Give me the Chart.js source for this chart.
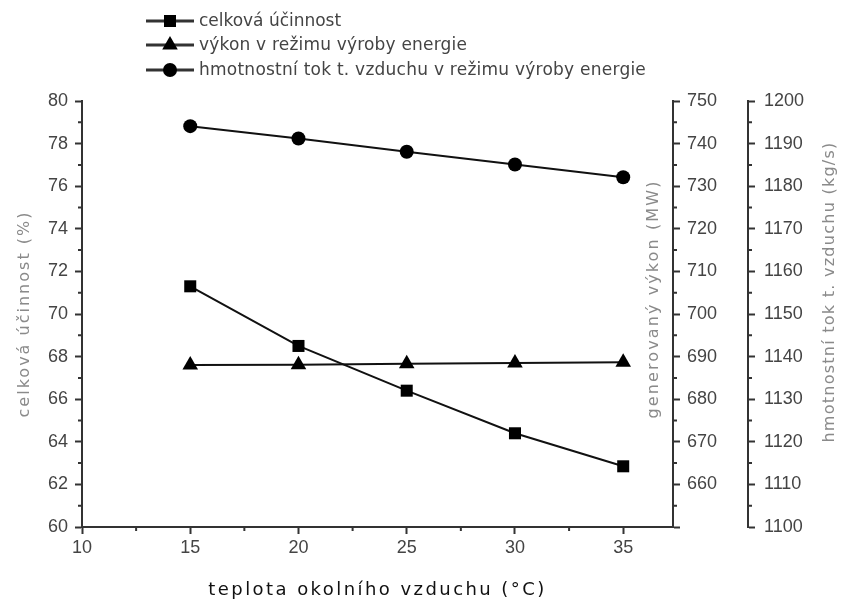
<!DOCTYPE html>
<html>
<head>
<meta charset="utf-8">
<script src="https://cdn.jsdelivr.net/npm/chart.js@4"></script>
<style>
html, body { margin: 0; padding: 0; background: #fff; }
</style>
</head>
<body>
<canvas id="myChart" width="842" height="601"></canvas>
<script>
// data
const teploty = [15, 20, 25, 30, 35];
const ucinnost = [71.3, 68.5, 66.4, 64.4, 62.85];
const vykon = [688.0, 688.1, 688.3, 688.5, 688.7];
const tokVzduchu = [1194.1, 1191.2, 1188.1, 1185.1, 1182.1];

const xTicks = [10, 15, 20, 25, 30, 35];
const leftTicks = [60, 62, 64, 66, 68, 70, 72, 74, 76, 78, 80];
const midTicks = [650, 660, 670, 680, 690, 700, 710, 720, 730, 740, 750];
const rightTicks = [1100, 1110, 1120, 1130, 1140, 1150, 1160, 1170, 1180, 1190, 1200];

const labels = ['celková účinnost', 'výkon v režimu výroby energie', 'hmotnostní tok t. vzduchu v režimu výroby energie'];
const xTitle = 'teplota okolního vzduchu (°C)';
const leftTitle = 'celková účinnost (%)';
const midTitle = 'generovaný výkon (MW)';
const rightTitle = 'hmotnostní tok t. vzduchu (kg/s)';

const axisColor = '#333';
const tickFont = { family: 'Liberation Sans', size: 18 };

function toPoints(ys) {
    return teploty.map(function (t, i) { return { x: t, y: ys[i] }; });
}

function setTicks(list) {
    return function (scale) { scale.ticks = list.map(function (v) { return { value: v }; }); };
}

function plain(v) { return String(v); }

function marker(ctx, style, x, y, r) {
    ctx.beginPath();
    if (style === 'rect') {
        const s = Math.SQRT1_2 * r;
        ctx.rect(x - s, y - s, 2 * s, 2 * s);
    } else if (style === 'triangle') {
        for (let k = 0; k < 3; k++) {
            const a = k * 2 * Math.PI / 3;
            const px = x + Math.sin(a) * r, py = y - Math.cos(a) * r;
            if (k === 0) ctx.moveTo(px, py); else ctx.lineTo(px, py);
        }
        ctx.closePath();
    } else {
        ctx.arc(x, y, r, 0, Math.PI * 2);
    }
    ctx.fill();
}

function spacedText(ctx, text, x, y, width) {
    ctx.letterSpacing = '0px';
    const w = ctx.measureText(text).width;
    const sp = (width - w) / (text.length - 1);
    ctx.letterSpacing = sp.toFixed(2) + 'px';
    ctx.fillText(text, x, y);
    ctx.letterSpacing = '0px';
}

const extras = {
    id: 'extras',
    afterDraw: function (chart) {
        const ctx = chart.ctx;
        const sc = chart.scales;
        ctx.save();
        // minor ticks
        ctx.strokeStyle = axisColor;
        ctx.lineWidth = 2;
        const minor = function (list, scale, draw) {
            for (let i = 0; i < list.length - 1; i++) {
                const v = (list[i] + list[i + 1]) / 2;
                if (v > scale.max) continue;
                draw(scale.getPixelForValue(v));
            }
        };
        ctx.beginPath();
        minor(xTicks.concat([40]), sc.x, function (p) { ctx.moveTo(p, sc.x.top); ctx.lineTo(p, sc.x.top + 4); });
        minor(leftTicks, sc.y, function (p) { ctx.moveTo(sc.y.right, p); ctx.lineTo(sc.y.right - 4, p); });
        minor(midTicks, sc.y1, function (p) { ctx.moveTo(sc.y1.left, p); ctx.lineTo(sc.y1.left + 4, p); });
        minor(rightTicks, sc.y2, function (p) { ctx.moveTo(sc.y2.left, p); ctx.lineTo(sc.y2.left + 4, p); });
        ctx.stroke();

        // legend
        ctx.font = '17px "DejaVu Sans"';
        ctx.textBaseline = 'middle';
        ctx.textAlign = 'left';
        const rows = [21, 45, 70];
        const widths = [142, 268, 447];
        chart.data.datasets.forEach(function (ds, i) {
            const y = rows[i];
            ctx.strokeStyle = '#333';
            ctx.lineWidth = 3;
            ctx.beginPath();
            ctx.moveTo(146, y);
            ctx.lineTo(194, y);
            ctx.stroke();
            ctx.fillStyle = '#000';
            marker(ctx, ds.pointStyle, 170, y, ds.pointRadius);
            ctx.fillStyle = '#444';
            spacedText(ctx, ds.label, 199, y + 1, widths[i]);
        });

        // axis titles
        ctx.textAlign = 'center';
        ctx.fillStyle = '#111';
        ctx.font = '18px "DejaVu Sans"';
        spacedText(ctx, xTitle, (chart.chartArea.left + chart.chartArea.right) / 2, 590, 336);

        ctx.fillStyle = '#8a8a8a';
        ctx.font = '16px "DejaVu Sans"';
        const vertical = function (text, x, y, width) {
            ctx.save();
            ctx.translate(x, y);
            ctx.rotate(-Math.PI / 2);
            spacedText(ctx, text, 0, 0, width);
            ctx.restore();
        };
        vertical(leftTitle, 25, 314, 205);
        vertical(midTitle, 654, 299, 237);
        vertical(rightTitle, 830, 292, 300);
        ctx.restore();
    }
};

const axisBase = {
    grid: { display: true, drawOnChartArea: false, drawTicks: true, tickLength: 7, tickWidth: 2, tickColor: axisColor },
    border: { display: true, color: axisColor, width: 2 },
    title: { display: false }
};

const lineStyle = {
    borderColor: '#111',
    borderWidth: 2,
    pointBackgroundColor: '#000',
    pointBorderColor: '#000',
    pointBorderWidth: 0,
    tension: 0,
    fill: false
};

const chart = new Chart(document.getElementById('myChart'), {
    type: 'line',
    data: {
        datasets: [Object.assign({
            label: labels[0],
            data: toPoints(ucinnost),
            yAxisID: 'y',
            pointStyle: 'rect',
            pointRadius: 8.5
        }, lineStyle), Object.assign({
            label: labels[1],
            data: toPoints(vykon),
            yAxisID: 'y1',
            pointStyle: 'triangle',
            pointRadius: 9
        }, lineStyle), Object.assign({
            label: labels[2],
            data: toPoints(tokVzduchu),
            yAxisID: 'y2',
            pointStyle: 'circle',
            pointRadius: 7
        }, lineStyle)]
    },
    options: {
        responsive: false,
        animation: false,
        devicePixelRatio: 1,
        layout: { padding: { top: 101, left: 0, right: 0, bottom: 0 } },
        plugins: {
            legend: { display: false },
            tooltip: { enabled: false },
            colors: { enabled: false }
        },
        scales: {
            x: Object.assign({}, axisBase, {
                type: 'linear', position: 'bottom', min: 10, max: 37.3,
                afterBuildTicks: setTicks(xTicks),
                afterFit: function (s) { s.height = 74; },
                ticks: { font: tickFont, color: '#444', padding: 3, maxRotation: 0, autoSkip: false, callback: plain }
            }),
            y: Object.assign({}, axisBase, {
                type: 'linear', position: 'left', min: 60, max: 80,
                afterBuildTicks: setTicks(leftTicks),
                afterFit: function (s) { s.width = 82; },
                ticks: { font: tickFont, color: '#444', padding: 7, autoSkip: false, callback: plain }
            }),
            y1: Object.assign({}, axisBase, {
                type: 'linear', position: 'right', min: 650, max: 750, weight: 0,
                afterBuildTicks: setTicks(midTicks),
                afterFit: function (s) { s.width = 75; },
                ticks: { font: tickFont, color: '#444', padding: 7, autoSkip: false,
                    callback: function (v) { return v === 650 ? '' : String(v); } }
            }),
            y2: Object.assign({}, axisBase, {
                type: 'linear', position: 'right', min: 1100, max: 1200, weight: 1,
                afterBuildTicks: setTicks(rightTicks),
                afterFit: function (s) { s.width = 94; },
                ticks: { font: tickFont, color: '#444', padding: 9, autoSkip: false, callback: plain }
            })
        }
    },
    plugins: [extras]
});
</script>
</body>
</html>
